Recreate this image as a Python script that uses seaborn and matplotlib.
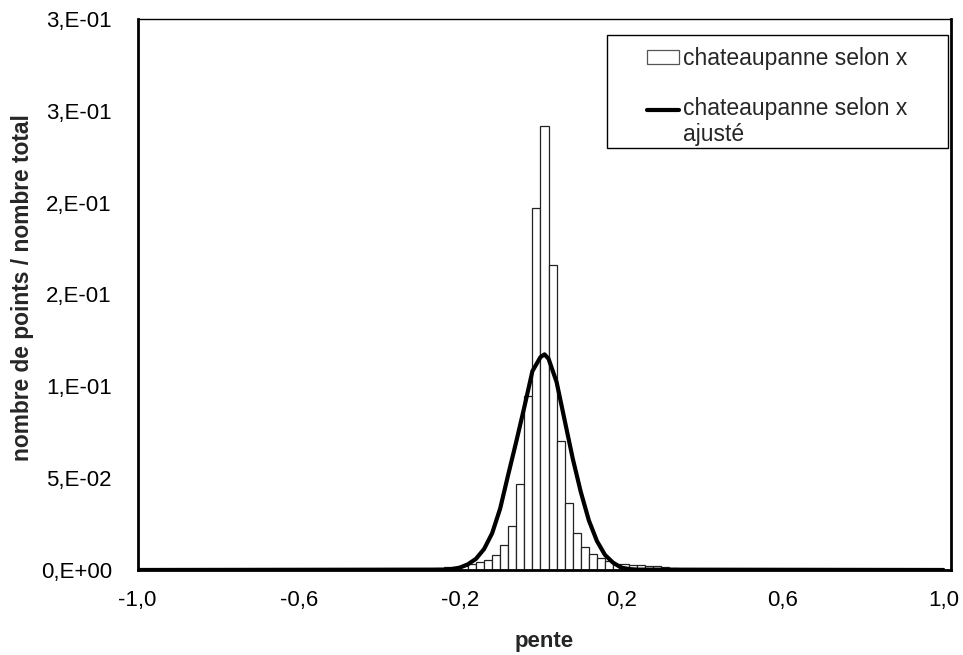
import numpy as np
import pandas as pd
import matplotlib
matplotlib.use("Agg")
import matplotlib.pyplot as plt
import seaborn as sns
from matplotlib.patches import Patch, Rectangle
from matplotlib.lines import Line2D
from matplotlib.legend_handler import HandlerLine2D

# Histogram of slopes: left edge of each 0.02-wide bin and its fraction of points
bin_left = [-0.30, -0.28, -0.26, -0.24, -0.22, -0.20, -0.18, -0.16, -0.14, -0.12,
            -0.10, -0.08, -0.06, -0.04, -0.02, 0.00, 0.02, 0.04, 0.06, 0.08,
            0.10, 0.12, 0.14, 0.16, 0.18, 0.20, 0.22, 0.24, 0.26, 0.28,
            0.30, 0.32, 0.34, 0.36, 0.38]
fraction = [0.0005, 0.0008, 0.0012, 0.0015, 0.0018, 0.0022, 0.0035, 0.0045, 0.0054, 0.0081,
            0.0134, 0.0237, 0.0467, 0.0950, 0.1970, 0.2415, 0.1660, 0.0700, 0.0366, 0.0199,
            0.0123, 0.0085, 0.0063, 0.0049, 0.0033, 0.0030, 0.0028, 0.0026, 0.0022, 0.0019,
            0.0014, 0.0010, 0.0008, 0.0006, 0.0004]
bin_width = 0.02

# Fitted curve
fit_x = [-1.00, -0.24, -0.22, -0.20, -0.18, -0.16, -0.14, -0.12, -0.10, -0.08, -0.06,
         -0.04, -0.02, 0.00, 0.01, 0.02, 0.04, 0.06, 0.08, 0.10, 0.12, 0.14, 0.16,
         0.18, 0.20, 0.22, 0.24, 1.00]
fit_y = [0.0000, 0.0002, 0.0005, 0.0013, 0.0031, 0.0061, 0.0114, 0.0200, 0.0335, 0.0520, 0.0700,
         0.0888, 0.1083, 0.1159, 0.1174, 0.1150, 0.1023, 0.0815, 0.0607, 0.0425, 0.0270, 0.0158, 0.0082,
         0.0040, 0.0013, 0.0005, 0.0002, 0.0000]

x_ticks = [-1.0, -0.6, -0.2, 0.2, 0.6, 1.0]
x_tick_labels = ["-1,0", "-0,6", "-0,2", "0,2", "0,6", "1,0"]
y_ticks = [0.0, 0.05, 0.10, 0.15, 0.20, 0.25, 0.30]
y_tick_labels = ["0,E+00", "5,E-02", "1,E-01", "2,E-01", "2,E-01", "3,E-01", "3,E-01"]

hist_label = "chateaupanne selon x"
fit_label = "chateaupanne selon x\najusté"

W, H = 963, 655

sns.set_theme(style="white")
plt.rcParams["font.family"] = ["Liberation Sans", "DejaVu Sans"]

fig = plt.figure(figsize=(W / 100, H / 100), dpi=100)
ax = fig.add_axes([0.1428, 0.1298, 0.8447, 0.8412])

hist_df = pd.DataFrame({"centre": np.array(bin_left) + bin_width / 2, "fraction": fraction})
edges = list(bin_left) + [bin_left[-1] + bin_width]
sns.histplot(data=hist_df, x="centre", weights="fraction", bins=edges,
             stat="count", fill=True, color="white", edgecolor="#222222",
             linewidth=0.9, alpha=1.0, ax=ax)

fit_df = pd.DataFrame({"pente": fit_x, "valeur": fit_y})
sns.lineplot(data=fit_df, x="pente", y="valeur", color="black", linewidth=3.0,
             sort=False, ax=ax)

ax.set_xlim(-1.0, 1.0186)
ax.set_ylim(0, 0.30)
ax.set_xticks(x_ticks)
ax.set_xticklabels(x_tick_labels)
ax.set_yticks(y_ticks)
ax.set_yticklabels(y_tick_labels)
ax.tick_params(axis="both", direction="inout", length=9, width=1.5,
               colors="black", labelsize=16)
ax.tick_params(axis="y", pad=14)
ax.tick_params(axis="x", pad=10)

for side in ["left", "bottom", "right"]:
    ax.spines[side].set_linewidth(2.0)
    ax.spines[side].set_color("black")
ax.spines["top"].set_linewidth(1.0)
ax.spines["top"].set_color("black")

ax.set_xlabel("pente", fontsize=16, fontweight="bold", labelpad=14)
ax.set_ylabel("nombre de points / nombre total", fontsize=16.4, fontweight="bold", labelpad=5)
ax.yaxis.label.set_y(0.513)


class FirstLineHandler(HandlerLine2D):
    """Line handle aligned with the first line of a multi-line label."""

    def __init__(self, shift, **kw):
        super().__init__(**kw)
        self.shift = shift

    def create_artists(self, legend, orig_handle, xdescent, ydescent,
                       width, height, fontsize, trans):
        artists = super().create_artists(legend, orig_handle, xdescent, ydescent,
                                         width, height, fontsize, trans)
        for a in artists:
            a.set_ydata(np.asarray(a.get_ydata(), dtype=float) + self.shift)
        return artists


def fig_xy(px, py):
    return px / W, 1 - py / H


# Legend box
x0, y0 = fig_xy(607, 148)
x1, y1 = fig_xy(948, 35)
box = Rectangle((x0, y0), x1 - x0, y1 - y0, transform=fig.transFigure,
                facecolor="white", edgecolor="black", linewidth=1.0, zorder=4)
fig.add_artist(box)

hist_handle = Patch(facecolor="white", edgecolor="#555555", linewidth=0.9)
fit_handle = Line2D([0], [0], color="black", linewidth=3.0)
leg = fig.legend([hist_handle, fit_handle], [hist_label, fit_label],
                 loc="upper left", bbox_to_anchor=fig_xy(647, 47),
                 bbox_transform=fig.transFigure, fontsize=16.5, frameon=False,
                 borderpad=0, borderaxespad=0, labelspacing=1.18,
                 handlelength=1.4, handleheight=0.6, handletextpad=0.18,
                 handler_map={fit_handle: FirstLineHandler(shift=9.4)})
leg.set_zorder(5)
for t in leg.get_texts():
    t.set_linespacing(1.15)

fig.savefig("out.png", dpi=100)
